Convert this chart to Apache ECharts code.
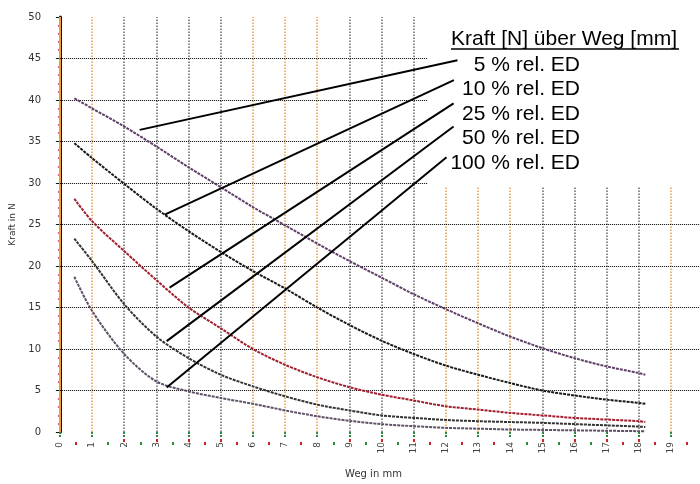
<!DOCTYPE html>
<html>
<head>
<meta charset="utf-8">
<script src="https://cdn.jsdelivr.net/npm/echarts@6/dist/echarts.min.js"></script>
<style>html,body{margin:0;padding:0;background:#fff}#c{width:700px;height:484px}</style>
</head>
<body>
<div id="c"></div>
<script>
// ---- data ----
const wegMm = [0.45, 1, 2, 3, 4, 5, 6, 7, 8, 9, 10, 11, 12, 13, 14, 15, 16, 17, 18, 18.2];
const kraft5 = [40.2, 39.0, 36.8, 34.4, 31.9, 29.5, 27.1, 24.9, 22.7, 20.6, 18.6, 16.6, 14.8, 13.1, 11.5, 10.1, 8.9, 7.9, 7.1, 6.9];
const kraft10 = [34.8, 33.0, 29.9, 26.9, 24.2, 21.7, 19.4, 17.3, 15.0, 12.9, 11.0, 9.4, 8.0, 6.9, 5.9, 5.0, 4.4, 3.9, 3.5, 3.4];
const kraft25 = [28.1, 25.4, 21.8, 18.3, 15.0, 12.5, 10.0, 8.1, 6.6, 5.4, 4.5, 3.8, 3.1, 2.7, 2.3, 2.0, 1.7, 1.5, 1.3, 1.2];
const kraft50 = [23.3, 20.6, 15.4, 11.5, 8.9, 6.9, 5.5, 4.3, 3.3, 2.6, 2.0, 1.7, 1.45, 1.3, 1.2, 1.1, 0.95, 0.8, 0.65, 0.6];
const kraft100 = [18.7, 14.6, 9.4, 6.1, 4.9, 4.1, 3.4, 2.6, 1.9, 1.35, 0.95, 0.7, 0.5, 0.4, 0.3, 0.25, 0.2, 0.15, 0.1, 0.08];

const xTicks = [0,1,2,3,4,5,6,7,8,9,10,11,12,13,14,15,16,17,18,19,20];
const orangeGrid = [1, 6, 7, 8, 12, 13, 14, 19];
const greyGrid = [2, 3, 4, 5, 9, 10, 11, 15, 16, 17, 18];
const halfRed = [0.5, 4.5, 5.5, 6.5, 7.5, 11.5, 12.5, 13.5, 17.5, 18.5, 19.5];
const halfGreen = [1.5, 2.5, 3.5, 8.5, 9.5, 10.5, 14.5, 15.5, 16.5];
const yGrid = [5, 10, 15, 20, 25, 30, 35, 40, 45];

const legendTitle = 'Kraft [N] über Weg [mm]';
const seriesNames = ['5 % rel. ED', '10 % rel. ED', '25 % rel. ED', '50 % rel. ED', '100 % rel. ED'];
const curveAnchors = [[2.48, 36.4], [3.26, 26.2], [3.41, 17.4], [3.32, 10.95], [3.32, 5.36]];
const labelAnchors = [[12.36, 44.8], [12.25, 42.4], [12.24, 39.6], [12.24, 36.8], [12.02, 33.1]];

const X_MIN = -0.4, X_MAX = 19.9;

// ---- build ----
const curves = [kraft5, kraft10, kraft25, kraft50, kraft100];
const curveColors = ['#5e4068', '#1a1a1a', '#a01e2e', '#333333', '#5e5066'];

const gridSeries = {
  type: 'line', data: [], z: 1, silent: true,
  markLine: {
    z: 1, silent: true, symbol: 'none', animation: false,
    label: { show: false },
    data: [
      [{ coord: [0, 0], lineStyle: { color: '#f0a030', width: 2, type: 'solid' } }, { coord: [0, 50] }],
      ...orangeGrid.map(v => [{ coord: [v, 0], lineStyle: { color: '#e6a04a', width: 1.5, type: [1.5, 1.5] } }, { coord: [v, 50] }]),
      ...greyGrid.map(v => [{ coord: [v, 0], lineStyle: { color: '#666', width: 1.5, type: [1.5, 1.5] } }, { coord: [v, 50] }]),
      ...yGrid.map(v => [{ coord: [0, v], lineStyle: { color: '#000', width: 1, type: [1, 1] } }, { coord: [X_MAX, v] }])
    ]
  }
};

const curveSeries = curves.map((arr, i) => ({
  type: 'line', name: seriesNames[i], z: 3, showSymbol: false, symbol: 'none', smooth: 0.3,
  data: wegMm.map((x, k) => [x, arr[k]]),
  lineStyle: { color: curveColors[i], width: 2, type: [3, 1] }
}));

const annoSeries = {
  type: 'line', data: [], z: 7, silent: true,
  markLine: {
    z: 7, silent: true, symbol: 'none', animation: false, label: { show: false },
    lineStyle: { color: '#000', width: 2, type: 'solid' },
    data: curveAnchors.map((c, i) => [{ coord: c }, { coord: labelAnchors[i] }])
  }
};

const baseX = { type: 'value', min: X_MIN, max: X_MAX, position: 'bottom', axisLine: { show: false }, splitLine: { show: false } };

const texts = [
  { type: 'text', z: 10, left: 451, top: 29, style: { text: legendTitle, font: '21px "Liberation Sans", Arial, sans-serif', fill: '#000' } },
  { type: 'line', z: 10, shape: { x1: 451, y1: 49, x2: 679, y2: 49 }, style: { stroke: '#000', lineWidth: 1.5 } }
].concat(seriesNames.map((t, i) => ({
  type: 'text', z: 10, right: 120, top: 54.5 + i * 24.5,
  style: { text: t, font: '21px "Liberation Sans", Arial, sans-serif', fill: '#000', align: 'right' }
})));

const option = {
  animation: false,
  backgroundColor: '#fff',
  grid: { left: 45, right: 0, top: 17, bottom: 47, containLabel: false },
  xAxis: [
    Object.assign({}, baseX, {
      offset: 7,
      name: 'Weg in mm', nameLocation: 'middle', nameGap: 30,
      nameTextStyle: { fontSize: 10, color: '#333', fontFamily: 'DejaVu Sans' },
      axisTick: { customValues: xTicks, length: 6, lineStyle: { color: '#2e8a40', width: 2, type: [2, 1] } },
      axisLabel: { customValues: xTicks, rotate: 90, fontSize: 9, margin: 3, color: '#444', fontFamily: 'DejaVu Sans' }
    }),
    Object.assign({}, baseX, {
      offset: 7,
      axisTick: { customValues: greyGrid, length: 3, lineStyle: { color: '#d02030', width: 2 } },
      axisLabel: { show: false }
    }),
    Object.assign({}, baseX, {
      offset: 10,
      axisTick: { customValues: halfRed, length: 3, lineStyle: { color: '#d02030', width: 2 } },
      axisLabel: { show: false }
    }),
    Object.assign({}, baseX, {
      offset: 10,
      axisTick: { customValues: halfGreen, length: 3, lineStyle: { color: '#2e8a40', width: 2 } },
      axisLabel: { show: false }
    })
  ],
  yAxis: {
    type: 'value', min: 0, max: 50, interval: 5,
    name: 'Kraft in N', nameLocation: 'middle', nameGap: 30,
    nameTextStyle: { fontSize: 9, color: '#333', fontFamily: 'DejaVu Sans' },
    axisLine: { show: true, lineStyle: { color: '#111', width: 3 } },
    axisTick: { show: true, length: 4, lineStyle: { color: '#111', width: 1 } },
    minorTick: { show: true, splitNumber: 5, length: 2, lineStyle: { color: '#e03050', width: 1.5 } },
    axisLabel: { fontSize: 10, color: '#333', margin: 6, fontFamily: 'DejaVu Sans' },
    splitLine: { show: false }
  },
  graphic: [
    { type: 'rect', z: 4, shape: { x: 428, y: 0, width: 272, height: 187 }, style: { fill: '#fff' } }
  ].concat(texts),
  series: [gridSeries].concat(curveSeries, [annoSeries]).map(s => Object.assign({ xAxisIndex: 0, yAxisIndex: 0 }, s))
};

const chart = echarts.init(document.getElementById('c'), null, { renderer: 'canvas' });
chart.setOption(option);
</script>
</body>
</html>
